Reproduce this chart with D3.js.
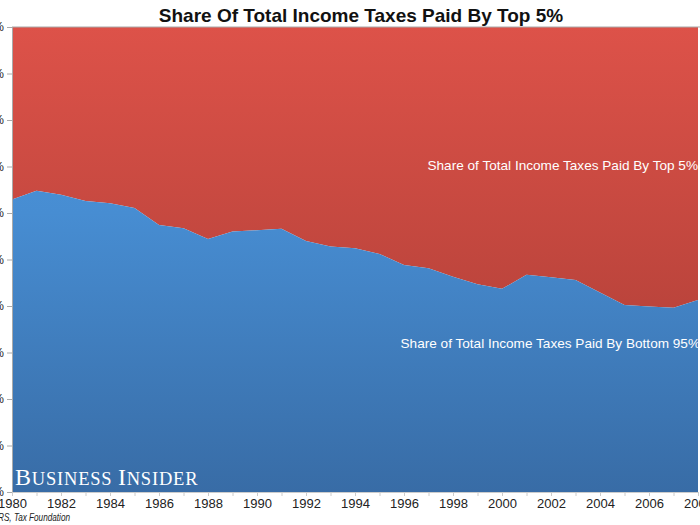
<!DOCTYPE html>
<html><head><meta charset="utf-8">
<script src="https://cdn.jsdelivr.net/npm/d3@7"></script>
<style>body{margin:0;background:#fff;}svg{display:block;}</style>
</head><body>
<svg id="chart" width="700" height="525"></svg>
<script>
const years = d3.range(1980, 2009);
const bottom95 = [62.9,64.8,63.9,62.6,62.1,61.1,57.4,56.7,54.4,56.0,56.3,56.6,54.0,52.8,52.4,51.2,48.8,48.1,46.3,44.7,43.7,46.7,46.2,45.6,42.9,40.2,39.9,39.6,41.3];
const top5 = bottom95.map(v => +(100 - v).toFixed(1));
const yTicks = [0,10,20,30,40,50,60,70,80,90,100];
const xTicks = d3.range(1980, 2009, 2);
const title = "Share Of Total Income Taxes Paid By Top 5%";
const labelTop = "Share of Total Income Taxes Paid By Top 5%";
const labelBottom = "Share of Total Income Taxes Paid By Bottom 95%";
const source = "Source: IRS, Tax Foundation";

const svg = d3.select("#chart");
const mLeft = 12, mRight = 698, mTop = 27, mBottom = 492;
const x = d3.scaleLinear().domain([1980, 2008]).range([mLeft, mRight]);
const y = d3.scaleLinear().domain([0, 100]).range([mBottom, mTop]);

const defs = svg.append("defs");
const gR = defs.append("linearGradient").attr("id","gR").attr("gradientUnits","userSpaceOnUse")
  .attr("x1",0).attr("y1",mTop).attr("x2",0).attr("y2",mBottom);
gR.append("stop").attr("offset","0").attr("stop-color","#dd5249");
gR.append("stop").attr("offset","1").attr("stop-color","#a53b33");
const gB = defs.append("linearGradient").attr("id","gB").attr("gradientUnits","userSpaceOnUse")
  .attr("x1",0).attr("y1",mTop).attr("x2",0).attr("y2",mBottom);
gB.append("stop").attr("offset","0").attr("stop-color","#4d96de");
gB.append("stop").attr("offset","0.4").attr("stop-color","#478dd2");
gB.append("stop").attr("offset","1").attr("stop-color","#386ca6");

const data = years.map((yr,i) => ({yr, b: bottom95[i], t: top5[i]}));

svg.append("path").datum(data)
  .attr("fill","url(#gR)")
  .attr("d", d3.area().x(d=>x(d.yr)).y0(d=>y(d.b)).y1(d=>y(d.b + d.t)));
svg.append("path").datum(data)
  .attr("fill","url(#gB)")
  .attr("d", d3.area().x(d=>x(d.yr)).y0(y(0)).y1(d=>y(d.b)));

svg.append("line").attr("x1",mLeft).attr("x2",700).attr("y1",mTop).attr("y2",mTop)
  .attr("stroke","#a9a9a9").attr("stroke-width",1);

const yAxis = svg.append("g").attr("transform",`translate(${mLeft},0)`)
  .call(d3.axisLeft(y).tickValues(yTicks).tickFormat(d=>d+"%").tickSize(5).tickPadding(3));
yAxis.select(".domain").attr("stroke","#aaaaaa");
yAxis.selectAll(".tick line").attr("stroke","#aaaaaa");
yAxis.selectAll("text").attr("font-family","Liberation Sans, Arial, sans-serif").attr("font-size",12).attr("fill","#222");

const xAxis = svg.append("g").attr("transform",`translate(0,${mBottom})`)
  .call(d3.axisBottom(x).tickValues(years).tickFormat(d => xTicks.includes(d) ? d : "").tickSize(4).tickPadding(3));
xAxis.select(".domain").attr("stroke","#cccccc");
xAxis.selectAll(".tick line").attr("stroke","#cccccc");
xAxis.selectAll("text").attr("font-family","Liberation Sans, Arial, sans-serif").attr("font-size",13).attr("fill","#222");

svg.append("text").attr("x",361).attr("y",22).attr("text-anchor","middle")
  .attr("font-family","Liberation Sans, Arial, sans-serif").attr("font-weight","bold").attr("font-size",19)
  .attr("fill","#111").text(title);

svg.append("text").attr("x",698).attr("y",170).attr("text-anchor","end")
  .attr("font-family","Liberation Sans, Arial, sans-serif").attr("font-size",13.6).attr("fill","#fff").text(labelTop);
svg.append("text").attr("x",700).attr("y",348).attr("text-anchor","end")
  .attr("font-family","Liberation Sans, Arial, sans-serif").attr("font-size",13.6).attr("fill","#fff").text(labelBottom);

const wm = svg.append("text").attr("x",15).attr("y",485)
  .attr("font-family","Liberation Serif, 'DejaVu Serif', serif").attr("fill","#fff")
  .attr("letter-spacing",0.8);
wm.append("tspan").attr("font-size",24).text("B");
wm.append("tspan").attr("font-size",18.5).text("USINESS ");
wm.append("tspan").attr("font-size",24).text("I");
wm.append("tspan").attr("font-size",18.5).text("NSIDER");

svg.append("text").attr("transform","translate(70,521) scale(0.82,1)").attr("text-anchor","end")
  .attr("font-family","Liberation Sans, Arial, sans-serif").attr("font-style","italic").attr("font-size",10)
  .attr("fill","#222").text(source);
</script>
</body></html>
